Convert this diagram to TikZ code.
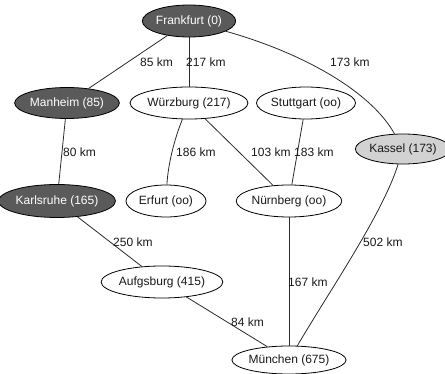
\documentclass[tikz,border=0pt]{standalone}
\usepackage{fontspec}
\setmainfont{Liberation Sans}
\usetikzlibrary{shapes.geometric}
\definecolor{darkfill}{HTML}{5A5A5A}
\definecolor{lightfill}{HTML}{D2D2D2}
\definecolor{edgecol}{HTML}{2A2A2A}
\begin{document}
\begin{tikzpicture}[x=1pt,y=-1pt,
  city/.style={ellipse,draw=black,line width=0.8pt,inner sep=0pt,
    font=\fontsize{12}{14}\selectfont,fill=white,text=black!90},
  visited/.style={city,fill=darkfill,text=white},
  reached/.style={city,fill=lightfill},
  road/.style={draw=edgecol,line width=0.8pt},
  dist/.style={anchor=west,inner sep=0pt,font=\fontsize{12}{14}\selectfont,text=black!90}]
\useasboundingbox (0,0) rectangle (445,374);
% cities
\node[visited,minimum width=90,minimum height=32] (fr) at (189,21) {Frankfurt (0)};
\node[visited,minimum width=100,minimum height=31] (ma) at (67,103) {Manheim (85)};
\node[city,minimum width=108,minimum height=32] (wu) at (189,103) {Würzburg (217)};
\node[city,minimum width=94,minimum height=32] (st) at (306,103) {Stuttgart (oo)};
\node[reached,minimum width=84,minimum height=30] (ks) at (403,149) {Kassel (173)};
\node[visited,minimum width=105,minimum height=33] (ka) at (57,201) {Karlsruhe (165)};
\node[city,minimum width=80,minimum height=32] (er) at (166,201) {Erfurt (oo)};
\node[city,minimum width=99,minimum height=32] (nu) at (289,201) {Nürnberg (oo)};
\node[city,minimum width=109,minimum height=32] (au) at (162,282) {Aufgsburg (415)};
\node[city,minimum width=103,minimum height=28] (mu) at (289,360) {München (675)};
% roads
\draw[road] (fr) -- (ma);
\draw[road] (fr) -- (wu);
\draw[road] (fr) .. controls (300,52) and (370,90) .. (ks);
\draw[road] (ma) -- (ka);
\draw[road] (wu) .. controls (174,140) and (168,165) .. (er);
\draw[road] (wu) -- (nu);
\draw[road] (st) -- (nu);
\draw[road] (ka) -- (au);
\draw[road] (au) -- (mu);
\draw[road] (nu) -- (mu);
\draw[road] (ks) .. controls (382,215) and (330,290) .. (mu);
% distances
\node[dist] (l1) at (140,62) {85 km};
\node[dist] (l2) at (186,62) {217 km};
\node[dist] (l3) at (330,62) {173 km};
\node[dist] (l4) at (63,152) {80 km};
\node[dist] (l5) at (176,152) {186 km};
\node[dist] (l6) at (251,152) {103 km};
\node[dist] (l7) at (294,152) {183 km};
\node[dist] (l8) at (113,242) {250 km};
\node[dist] (l9) at (363,242) {502 km};
\node[dist] (l10) at (288,282) {167 km};
\node[dist] (l11) at (231,322) {84 km};
\end{tikzpicture}
\end{document}
